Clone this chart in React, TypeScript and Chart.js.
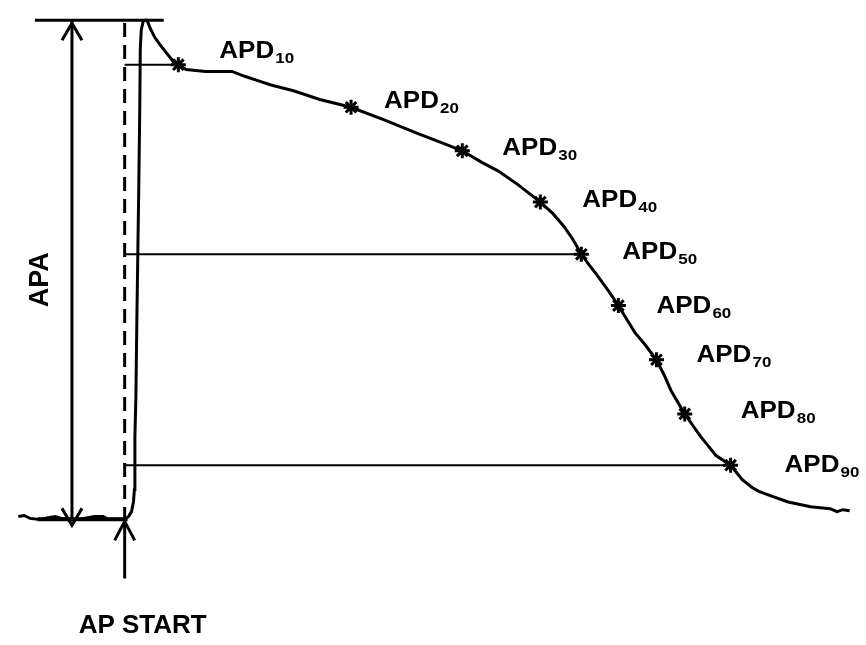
import React, { useEffect, useRef } from "react";
import { Chart, registerables } from "chart.js";

Chart.register(...registerables);

// Time (ms) relative to AP start, membrane potential (mV)
const TRACE_T = [
  -109, -103, -97, -87, -77, -71, -65, -47, -31, -22, -17, 0, 4, 7, 9, 10, 10.5, 11.5, 12.5, 13.5, 14.5, 15.5, 16, 17,
  19, 21, 23, 26, 31, 36, 43, 50, 55, 63, 73, 83, 98, 110, 123, 138, 150, 173, 200, 232, 266, 300, 326, 346, 366, 383,
  403, 426, 439, 450, 459, 468, 476, 483, 496, 506, 515, 523, 533, 545, 553, 560, 574, 583, 590, 598, 606, 621, 633,
  643, 650, 663, 680, 703, 723, 730, 736, 743,
];
const TRACE_V = [
  -84.5, -84.25, -85, -85.25, -84.75, -84.5, -85, -85.25, -84.5, -84.5, -85.25, -85.25, -84.5, -83.25, -80.75, -77.5,
  -63.75, -53.75, -33.75, -16.25, 1.25, 21.25, 36.25, 41.25, 43.5, 43.75, 43.75, 41.75, 39.25, 37.5, 35.25, 33, 32.25,
  31, 30.75, 30.5, 30.5, 30.5, 29.25, 28, 27, 25.5, 23.25, 21.25, 18, 14.5, 12, 10, 7, 4.75, 1.25, -3.25, -6.25, -9.5,
  -12.75, -16.75, -19.5, -21.75, -26.25, -30, -33.75, -37, -40, -44, -48, -52, -58, -61.25, -63.75, -66.25, -68.75,
  -71.25, -75, -77, -78, -79.25, -80.75, -82, -82.5, -83.25, -82.75, -83,
];

const APD_LEVELS = ["10", "20", "30", "40", "50", "60", "70", "80", "90"];
const APD_T = [55, 232, 346, 426, 468, 506, 545, 574, 621];
const APD_V = [32.25, 21.25, 10, -3.25, -16.75, -30, -44, -58, -71.25];

const PEAK_V = 43.75;
const REST_V = -85.25;
const APA_T = -54;
const PEAK_LINE_T = [-92, 40];
const REST_LINE_T = [-89, 3];
const START_ARROW_V = [-100.5, REST_V];
const DASH_V = [43, REST_V];

const LABEL_DX = [41, 33, 40, 42, 41, 38, 40, 56, 54];
const LABEL_DY = [-7, 1, 4, 5, 5, 7, 2, 4, 7];

const FONT = '"Liberation Sans", Arial, Helvetica, sans-serif';

function seg(t0: number, t1: number, v0: number, v1: number, width: number, dash: number[] = []) {
  return {
    type: "scatter" as const,
    data: [
      { x: t0, y: v0 },
      { x: t1, y: v1 },
    ],
    showLine: true,
    borderColor: "#000",
    backgroundColor: "#000",
    borderWidth: width,
    borderDash: dash,
    pointRadius: 0,
    tension: 0,
  };
}

const annotate = {
  id: "annotate",
  afterDatasetsDraw(chart: any) {
    const ctx = chart.ctx as CanvasRenderingContext2D;
    const xs = chart.scales.x;
    const ys = chart.scales.y;
    const px = (t: number) => xs.getPixelForValue(t);
    const py = (v: number) => ys.getPixelForValue(v);
    ctx.save();
    ctx.strokeStyle = "#000";
    ctx.fillStyle = "#000";
    ctx.lineWidth = 3;
    ctx.lineCap = "butt";
    ctx.lineJoin = "miter";

    const head = (x: number, y: number, dir: number, hw: number, len: number) => {
      ctx.beginPath();
      ctx.moveTo(x - hw, y + dir * len);
      ctx.lineTo(x, y);
      ctx.lineTo(x + hw, y + dir * len);
      ctx.stroke();
    };
    // APA arrow heads
    head(px(APA_T), py(PEAK_V) + 3, 1, 10, 17);
    head(px(APA_T), py(REST_V) + 6, -1, 10, 17);
    // AP start arrow head
    head(px(0), py(REST_V) + 2, 1, 10, 19);

    // APD labels
    const SX = 1.13;
    APD_LEVELS.forEach((lv, i) => {
      const x = px(APD_T[i]) + LABEL_DX[i];
      const y = py(APD_V[i]) + LABEL_DY[i];
      ctx.save();
      ctx.translate(x, y);
      ctx.scale(SX, 1);
      ctx.textBaseline = "alphabetic";
      ctx.textAlign = "left";
      ctx.font = `bold 23px ${FONT}`;
      ctx.fillText("APD", 0, 0);
      const w = ctx.measureText("APD").width;
      ctx.font = `bold 15px ${FONT}`;
      ctx.fillText(lv, w + 1, 5);
      ctx.restore();
    });

    // APA vertical text
    ctx.save();
    ctx.translate(px(APA_T) - 31, (py(PEAK_V) + py(REST_V)) / 2 + 10);
    ctx.rotate(-Math.PI / 2);
    ctx.textAlign = "center";
    ctx.textBaseline = "middle";
    ctx.font = `bold 27px ${FONT}`;
    ctx.fillText("APA", 0, 0);
    ctx.restore();

    // AP START
    ctx.textAlign = "center";
    ctx.textBaseline = "alphabetic";
    ctx.font = `bold 26px ${FONT}`;
    ctx.fillText("AP START", px(0) + 18, py(START_ARROW_V[0]) + 55);
    ctx.restore();
  },
};

export default function App() {
  const ref = useRef<HTMLCanvasElement | null>(null);
  useEffect(() => {
    document.body.style.margin = "0";
    const canvas = ref.current;
    if (!canvas) return;
    const trace = TRACE_T.map((t, i) => ({ x: t, y: TRACE_V[i] }));
    const markers = APD_T.map((t, i) => ({ x: t, y: APD_V[i] }));
    const chart = new Chart(canvas, {
      type: "scatter",
      data: {
        datasets: [
          seg(PEAK_LINE_T[0], PEAK_LINE_T[1], PEAK_V, PEAK_V, 3),
          seg(REST_LINE_T[0], REST_LINE_T[1], REST_V, REST_V, 4),
          seg(0, APD_T[0], APD_V[0], APD_V[0], 2),
          seg(0, APD_T[4], APD_V[4], APD_V[4], 2),
          seg(0, APD_T[8], APD_V[8], APD_V[8], 2),
          seg(0, 0, DASH_V[0], DASH_V[1], 3, [14, 8]),
          seg(APA_T, APA_T, PEAK_V, REST_V, 3),
          seg(0, 0, START_ARROW_V[0], START_ARROW_V[1], 3),
          {
            type: "scatter" as const,
            data: trace,
            showLine: true,
            borderColor: "#000",
            backgroundColor: "#000",
            borderWidth: 3,
            pointRadius: 0,
            tension: 0,
          },
          {
            type: "scatter" as const,
            data: markers,
            showLine: false,
            pointStyle: "star",
            pointRadius: 7.5,
            borderWidth: 3,
            borderColor: "#000",
            backgroundColor: "#000",
          },
        ] as any,
      },
      options: {
        animation: false,
        responsive: false,
        maintainAspectRatio: false,
        layout: { padding: 0 },
        plugins: { legend: { display: false }, tooltip: { enabled: false }, title: { display: false } },
        events: [],
        scales: {
          x: { type: "linear", min: -117, max: 749, display: false },
          y: { type: "linear", min: -115, max: 46.25, display: false },
        },
      },
      plugins: [annotate],
    });
    return () => chart.destroy();
  }, []);
  return (
    <div style={{ position: "absolute", left: 0, top: 0, width: 866, height: 645, background: "#fff" }}>
      <canvas ref={ref} width={866} height={645} style={{ display: "block" }} />
    </div>
  );
}
